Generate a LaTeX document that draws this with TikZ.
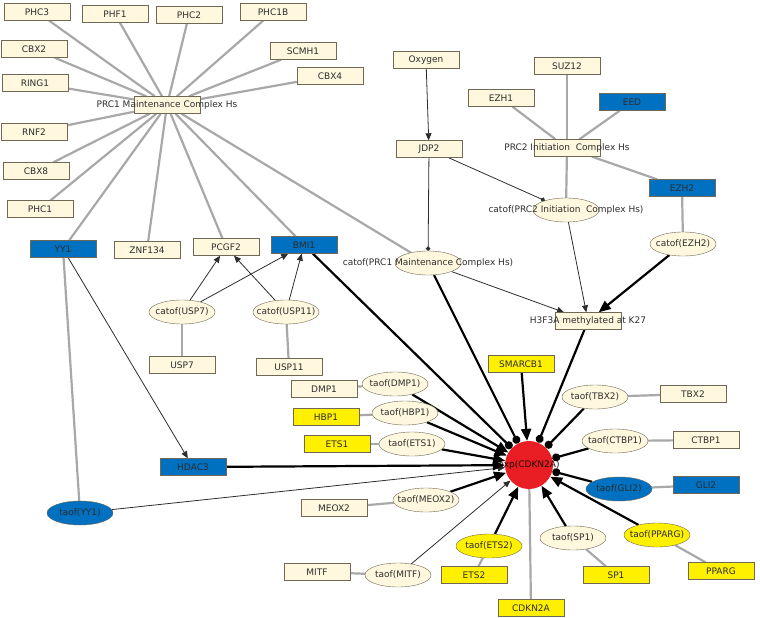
\documentclass[tikz,border=0pt]{standalone}
\usepackage{fontspec}
\setmainfont{DejaVu Sans}
\usepackage{xcolor}
\usepackage{tikz}
\usetikzlibrary{arrows.meta, positioning, shapes.geometric, backgrounds}
\definecolor{cream}{RGB}{255,248,222}
\definecolor{genblue}{RGB}{0,112,192}
\definecolor{genyellow}{RGB}{255,240,0}
\definecolor{hubred}{RGB}{232,30,36}
\definecolor{edgegray}{RGB}{168,168,168}
\definecolor{boxline}{RGB}{112,104,84}
\definecolor{inkdark}{RGB}{45,45,45}
\newcommand{\lblfont}{\fontsize{9}{10}\selectfont}

\begin{document}
\begin{tikzpicture}[x=1pt, y=-1pt,
      gene/.style={draw=boxline, fill=#1, minimum width=66pt, minimum height=17pt,
                   inner sep=0pt, font=\lblfont, text=inkdark},
      gene/.default=cream,
      cplx/.style={gene=cream, label={[font=\lblfont, text=inkdark]center:#1}},
      fun/.style={ellipse, draw=boxline, fill=cream, minimum width=66pt, minimum height=24pt,
                  inner sep=0pt, label={[font=\lblfont, text=inkdark]center:#1}},
      link/.style={draw=edgegray, line width=2.2pt},
      thinarr/.style={-{Triangle[length=7pt, width=6pt]}, draw=inkdark, line width=0.8pt},
      thindot/.style={-{Circle[length=4.5pt]}, draw=inkdark, line width=0.8pt},
      thickarr/.style={-{Triangle[length=12pt, width=10pt]}, draw=black, line width=2.2pt},
      thickdot/.style={-{Circle[length=8pt]}, draw=black, line width=2.2pt}
  ]
    \useasboundingbox (0,0) rectangle (760,618);

    % PRC1 complex
    \node[cplx={PRC1 Maintenance Complex Hs}] (prc1) at (167,105) {};
    \node[gene] (phc3)   at (37,12)   {PHC3};
    \node[gene] (phf1)   at (115,14)  {PHF1};
    \node[gene] (phc2)   at (189,15)  {PHC2};
    \node[gene] (phc1b)  at (273,12)  {PHC1B};
    \node[gene] (cbx2)   at (34,49)   {CBX2};
    \node[gene] (scmh1)  at (303,51)  {SCMH1};
    \node[gene] (cbx4)   at (330,76)  {CBX4};
    \node[gene] (ring1)  at (35,83)   {RING1};
    \node[gene] (rnf2)   at (34,132)  {RNF2};
    \node[gene] (cbx8)   at (36,171)  {CBX8};
    \node[gene] (phc1)   at (40,209)  {PHC1};
    \node[gene=genblue] (yy1) at (63,249) {YY1};
    \node[gene] (znf134) at (147,250) {ZNF134};
    \node[gene] (pcgf2)  at (226,247) {PCGF2};
    \node[gene=genblue] (bmi1) at (304,245) {BMI1};
    \node[fun={catof(USP7)}]  (catusp7)  at (182,312) {};
    \node[fun={catof(USP11)}] (catusp11) at (286,312) {};
    \node[gene] (usp7)   at (182,365) {USP7};
    \node[gene] (usp11)  at (289,367) {USP11};

    % PRC2 complex
    \node[gene] (oxygen) at (426,60)  {Oxygen};
    \node[gene] (suz12)  at (567,66)  {SUZ12};
    \node[gene] (ezh1)   at (501,98)  {EZH1};
    \node[gene=genblue] (eed) at (632,102) {EED};
    \node[gene] (jdp2)   at (429,149) {JDP2};
    \node[cplx={PRC2 Initiation\ \ Complex Hs}] (prc2) at (567,148) {};
    \node[gene=genblue] (ezh2) at (682,188) {EZH2};
    \node[fun={catof(PRC2 Initiation\ \ Complex Hs)}] (catprc2) at (566,210) {};
    \node[fun={catof(EZH2)}] (catezh2) at (683,244) {};
    \node[fun={catof(PRC1 Maintenance Complex Hs)}] (catprc1) at (428,263) {};
    \node[cplx={H3F3A methylated at K27}] (h3f3a) at (588,321) {};

    % CDKN2A expression
    \node[circle, fill=hubred, minimum size=48pt, inner sep=0pt,
          label={[font=\lblfont, text=black!85!hubred]center:exp(CDKN2A)}] (hub) at (529,465) {};
    \node[gene=genyellow] (smarcb1) at (521,364) {SMARCB1};
    \node[gene] (dmp1) at (324,389) {DMP1};
    \node[gene=genyellow] (hbp1) at (326,417) {HBP1};
    \node[gene=genyellow] (ets1) at (337,444) {ETS1};
    \node[gene=genblue] (hdac3) at (193,467) {HDAC3};
    \node[fun={taof(YY1)}, fill=genblue] (taoyy1) at (80,513) {};
    \node[gene] (meox2) at (334,508) {MEOX2};
    \node[gene] (mitf)  at (317,572) {MITF};
    \node[fun={taof(DMP1)}] (taodmp1) at (395,384) {};
    \node[fun={taof(HBP1)}] (taohbp1) at (405,413) {};
    \node[fun={taof(ETS1)}] (taoets1) at (412,444) {};
    \node[fun={taof(MEOX2)}] (taomeox2) at (426,500) {};
    \node[fun={taof(MITF)}] (taomitf) at (398,575) {};
    \node[fun={taof(TBX2)}] (taotbx2) at (595,397) {};
    \node[gene] (tbx2) at (693,394) {TBX2};
    \node[fun={taof(CTBP1)}] (taoctbp1) at (615,441) {};
    \node[gene] (ctbp1) at (706,440) {CTBP1};
    \node[fun={taof(GLI2)}, fill=genblue] (taogli2) at (619,489) {};
    \node[gene=genblue] (gli2) at (706,485) {GLI2};
    \node[fun={taof(PPARG)}, fill=genyellow] (taopparg) at (657,535) {};
    \node[gene=genyellow] (pparg) at (721,571) {PPARG};
    \node[fun={taof(SP1)}] (taosp1) at (573,538) {};
    \node[gene=genyellow] (sp1) at (616,575) {SP1};
    \node[fun={taof(ETS2)}, fill=genyellow] (taoets2) at (489,546) {};
    \node[gene=genyellow] (ets2) at (474,575) {ETS2};
    \node[gene=genyellow] (cdkn2a) at (531,608) {CDKN2A};

    \begin{scope}[on background layer]
      \draw[link] (prc1) -- (phc3);  \draw[link] (prc1) -- (phf1);
      \draw[link] (prc1) -- (phc2);  \draw[link] (prc1) -- (phc1b);
      \draw[link] (prc1) -- (cbx2);  \draw[link] (prc1) -- (scmh1);
      \draw[link] (prc1) -- (cbx4);  \draw[link] (prc1) -- (ring1);
      \draw[link] (prc1) -- (rnf2);  \draw[link] (prc1) -- (cbx8);
      \draw[link] (prc1) -- (phc1);  \draw[link] (prc1) -- (yy1);
      \draw[link] (prc1) -- (znf134); \draw[link] (prc1) -- (pcgf2);
      \draw[link] (prc1) -- (bmi1);  \draw[link] (prc1) -- (catprc1);
      \draw[link] (prc2) -- (suz12); \draw[link] (prc2) -- (ezh1);
      \draw[link] (prc2) -- (eed);   \draw[link] (prc2) -- (ezh2);
      \draw[link] (prc2) -- (catprc2); \draw[link] (ezh2) -- (catezh2);
      \draw[link] (catusp7) -- (usp7); \draw[link] (catusp11) -- (usp11);
      \draw[link] (yy1) -- (taoyy1);
      \draw[link] (taodmp1) -- (dmp1); \draw[link] (taohbp1) -- (hbp1);
      \draw[link] (taoets1) -- (ets1); \draw[link] (taomeox2) -- (meox2);
      \draw[link] (taomitf) -- (mitf); \draw[link] (taotbx2) -- (tbx2);
      \draw[link] (taoctbp1) -- (ctbp1); \draw[link] (taogli2) -- (gli2);
      \draw[link] (taopparg) -- (pparg); \draw[link] (taosp1) -- (sp1);
      \draw[link] (taoets2) -- (ets2); \draw[link] (hub) -- (cdkn2a);

      \draw[thinarr] (oxygen) -- (jdp2);
      \draw[thindot] (jdp2) -- (catprc1);
      \draw[thindot] (jdp2) -- (catprc2);
      \draw[thinarr] (catusp7) -- (pcgf2);
      \draw[thinarr] (catusp7) -- (bmi1);
      \draw[thinarr] (catusp11) -- (pcgf2);
      \draw[thinarr] (catusp11) -- (bmi1);
      \draw[thinarr] (catprc1) -- (h3f3a);
      \draw[thinarr] (catprc2) -- (h3f3a);
      \draw[thinarr] (yy1) -- (hdac3);
      \draw[thinarr] (taoyy1) -- (hub);
      \draw[thinarr] (taomitf) -- (hub);

      \draw[thickarr] (catezh2) -- (h3f3a);
      \draw[thickdot] (h3f3a) -- (hub);
      \draw[thickdot] (bmi1) -- (hub);
      \draw[thickdot] (catprc1) -- (hub);
      \draw[thickarr] (smarcb1) -- (hub);
      \draw[thickdot] (taotbx2) -- (hub);
      \draw[thickdot] (taoctbp1) -- (hub);
      \draw[thickdot] (taogli2) -- (hub);
      \draw[thickarr] (taodmp1) -- (hub);
      \draw[thickarr] (taohbp1) -- (hub);
      \draw[thickarr] (taoets1) -- (hub);
      \draw[thickarr] (hdac3) -- (hub);
      \draw[thickarr] (taomeox2) -- (hub);
      \draw[thickarr] (taoets2) -- (hub);
      \draw[thickarr] (taosp1) -- (hub);
      \draw[thickarr] (taopparg) -- (hub);
    \end{scope}
  \end{tikzpicture}
\end{document}
